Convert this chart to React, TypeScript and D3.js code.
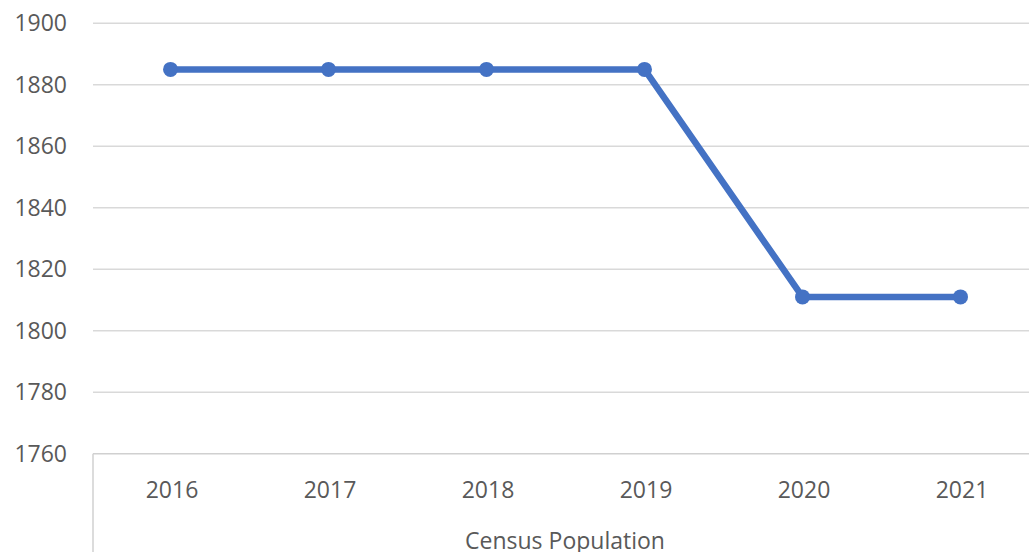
import React, { useEffect, useRef } from "react";
import * as d3 from "d3";

// Census population by year
const years: string[] = ["2016", "2017", "2018", "2019", "2020", "2021"];
const population: number[] = [1885, 1885, 1885, 1885, 1811, 1811];
const yTicks: number[] = [1760, 1780, 1800, 1820, 1840, 1860, 1880, 1900];
const axisTitle = "Census Population";

const WIDTH = 1029;
const HEIGHT = 552;

export default function App() {
  const ref = useRef<SVGSVGElement | null>(null);

  useEffect(() => {
    const svg = d3.select(ref.current);
    svg.selectAll("*").remove();

    const left = 93;
    const top = 23.3;
    const bottom = 453.7;
    const bandWidth = 158;

    const x = d3
      .scaleBand<string>()
      .domain(years)
      .range([left, left + bandWidth * years.length])
      .padding(0);
    const y = d3.scaleLinear().domain([1760, 1900]).range([bottom, top]);

    const font = "'Open Sans', 'Noto Sans', sans-serif";

    // gridlines
    svg
      .append("g")
      .selectAll("line")
      .data(yTicks.filter((t) => t !== 1760))
      .join("line")
      .attr("x1", left)
      .attr("x2", WIDTH)
      .attr("y1", (d) => y(d))
      .attr("y2", (d) => y(d))
      .attr("stroke", "#d9d9d9")
      .attr("stroke-width", 1.5);

    // y tick labels
    svg
      .append("g")
      .selectAll("text")
      .data(yTicks)
      .join("text")
      .attr("x", 67)
      .attr("y", (d) => y(d))
      .attr("dy", "0.35em")
      .attr("text-anchor", "end")
      .attr("font-family", font)
      .attr("font-size", 23)
      .attr("fill", "#595959")
      .text((d) => String(d));

    // category axis frame
    svg
      .append("line")
      .attr("x1", left)
      .attr("x2", WIDTH)
      .attr("y1", bottom)
      .attr("y2", bottom)
      .attr("stroke", "#d0d0d0")
      .attr("stroke-width", 1.5);
    svg
      .append("line")
      .attr("x1", left)
      .attr("x2", left)
      .attr("y1", bottom)
      .attr("y2", HEIGHT)
      .attr("stroke", "#d0d0d0")
      .attr("stroke-width", 1.5);

    // category labels
    svg
      .append("g")
      .selectAll("text")
      .data(years)
      .join("text")
      .attr("x", (d) => (x(d) as number) + x.bandwidth() / 2)
      .attr("y", 490)
      .attr("dy", "0.35em")
      .attr("text-anchor", "middle")
      .attr("font-family", font)
      .attr("font-size", 23)
      .attr("fill", "#595959")
      .text((d) => d);

    svg
      .append("text")
      .attr("x", 565)
      .attr("y", 541)
      .attr("dy", "0.35em")
      .attr("text-anchor", "middle")
      .attr("font-family", font)
      .attr("font-size", 23)
      .attr("fill", "#595959")
      .text(axisTitle);

    // series line
    const cx = (i: number) => (x(years[i]) as number) + x.bandwidth() / 2 - 1.5;
    const line = d3
      .line<number>()
      .x((_, i) => cx(i))
      .y((d) => y(d));

    svg
      .append("path")
      .datum(population)
      .attr("d", line)
      .attr("fill", "none")
      .attr("stroke", "#4472c4")
      .attr("stroke-width", 6.5)
      .attr("stroke-linejoin", "round");

    svg
      .append("g")
      .selectAll("circle")
      .data(population)
      .join("circle")
      .attr("cx", (_, i) => cx(i))
      .attr("cy", (d) => y(d))
      .attr("r", 7.5)
      .attr("fill", "#4472c4");
  }, []);

  return (
    <svg
      ref={ref}
      width={WIDTH}
      height={HEIGHT}
      style={{ position: "absolute", left: 0, top: 0, background: "#fff" }}
    />
  );
}
